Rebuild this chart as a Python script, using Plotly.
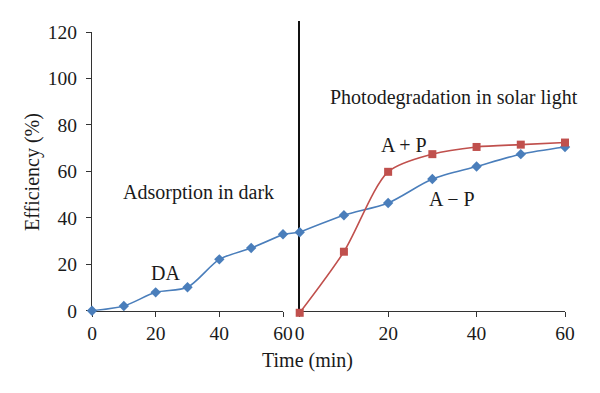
import plotly.graph_objects as go

# Data
time_dark = [0, 10, 20, 30, 40, 50, 60]
da_values = [0, 2.0, 7.9, 10.1, 22.1, 27.0, 32.9]
time_light = [0, 10, 20, 30, 40, 50, 60]
a_minus_p = [33.8, 41.1, 46.4, 56.7, 62.1, 67.4, 70.5]
a_plus_p = [-0.9, 25.4, 59.8, 67.4, 70.5, 71.5, 72.4]
x_ticks = [0, 20, 40, 60]
y_ticks = [0, 20, 40, 60, 80, 100, 120]

BLUE = "#4A7EBB"
RED = "#C0504D"
FONT = "Liberation Serif"
W, H = 600, 393

fig = go.Figure()

fig.add_trace(go.Scatter(
    x=time_dark, y=da_values, xaxis="x", yaxis="y", mode="lines+markers",
    line=dict(color=BLUE, width=1.6, shape="spline", smoothing=0.8),
    marker=dict(symbol="diamond", size=8, color=BLUE), cliponaxis=False,
    showlegend=False))
# connector between the two phases
fig.add_trace(go.Scatter(
    x=[0, 1], y=[da_values[-1], a_minus_p[0]], xaxis="x3", yaxis="y",
    mode="lines", line=dict(color=BLUE, width=1.6), cliponaxis=False,
    showlegend=False))
fig.add_trace(go.Scatter(
    x=time_light, y=a_minus_p, xaxis="x2", yaxis="y2", mode="lines+markers",
    line=dict(color=BLUE, width=1.6, shape="spline", smoothing=0.8),
    marker=dict(symbol="diamond", size=8, color=BLUE), cliponaxis=False,
    showlegend=False))
fig.add_trace(go.Scatter(
    x=time_light, y=a_plus_p, xaxis="x2", yaxis="y2", mode="lines+markers",
    line=dict(color=RED, width=1.6, shape="spline", smoothing=0.8),
    marker=dict(symbol="square", size=8, color=RED), cliponaxis=False,
    showlegend=False))

y0_px, y120_px = 310.7, 32.0
px_per_unit = (y0_px - y120_px) / 120
ybot = 1 - y0_px / H
ytop = 1 - y120_px / H
y2top_px = 21.0
y2max = (y0_px - y2top_px) / px_per_unit
y2min = -1.4
y2bot = ybot + y2min * px_per_unit / H

TXT = "#1a1a1a"
tickfont = dict(family=FONT, size=19.5, color=TXT)
common_x = dict(tickmode="array", tickvals=x_ticks, ticktext=[str(v) for v in x_ticks],
                showline=True, linecolor="#333", linewidth=1.3, ticks="outside",
                ticklen=5, tickcolor="#333", tickfont=tickfont, showgrid=False,
                zeroline=False, automargin=False, layer="below traces", fixedrange=True)

fig.update_layout(
    width=W, height=H, margin=dict(l=0, r=0, t=0, b=0),
    paper_bgcolor="white", plot_bgcolor="white",
    xaxis=dict(domain=[92 / W, 283 / W], range=[0, 60], anchor="y", **common_x),
    xaxis2=dict(domain=[299.7 / W, 565 / W], range=[0, 60], anchor="free",
                position=ybot, **common_x),
    xaxis3=dict(domain=[283 / W, 299.7 / W], range=[0, 1], anchor="y", visible=False,
                fixedrange=True),
    yaxis=dict(domain=[ybot, ytop], range=[0, 120], anchor="x", tickmode="array",
               tickvals=y_ticks, showline=True, linecolor="#333", linewidth=1.3,
               ticks="outside", ticklen=5, tickcolor="#333", tickfont=tickfont,
               ticklabelstandoff=5, fixedrange=True,
               showgrid=False, zeroline=False, automargin=False, layer="below traces"),
    yaxis2=dict(domain=[y2bot, 1 - y2top_px / H], range=[y2min, y2max], anchor="x2",
                showline=True, linecolor="#111", linewidth=2, showticklabels=False,
                ticks="", showgrid=False, zeroline=False, automargin=False,
                layer="below traces", fixedrange=True),
)

ann_font = dict(family=FONT, size=20, color=TXT)
fig.add_annotation(text="Adsorption in dark", x=33.6, y=50.7, xref="x", yref="y",
                   showarrow=False, font=ann_font)
fig.add_annotation(text="DA", x=23.2, y=16.2, xref="x", yref="y",
                   showarrow=False, font=ann_font)
fig.add_annotation(text="Photodegradation in solar light", x=34.9, y=91.6,
                   xref="x2", yref="y", showarrow=False, font=ann_font)
fig.add_annotation(text="A + P", x=23.6, y=71.4, xref="x2", yref="y",
                   showarrow=False, font=ann_font)
fig.add_annotation(text="A − P", x=34.4, y=48.1, xref="x2", yref="y",
                   showarrow=False, font=ann_font)
fig.add_annotation(text="Time (min)", x=307 / W, y=1 - 360 / H, xref="paper", yref="paper",
                   xanchor="center", yanchor="middle", showarrow=False, font=ann_font)
fig.add_annotation(text="Efficiency (%)", x=32 / W, y=1 - 172 / H, xref="paper", yref="paper",
                   xanchor="center", yanchor="middle", textangle=-90, showarrow=False,
                   font=ann_font)

fig.write_html("out.html", config={"displayModeBar": False},
               post_script="document.body.style.margin='0px';")
